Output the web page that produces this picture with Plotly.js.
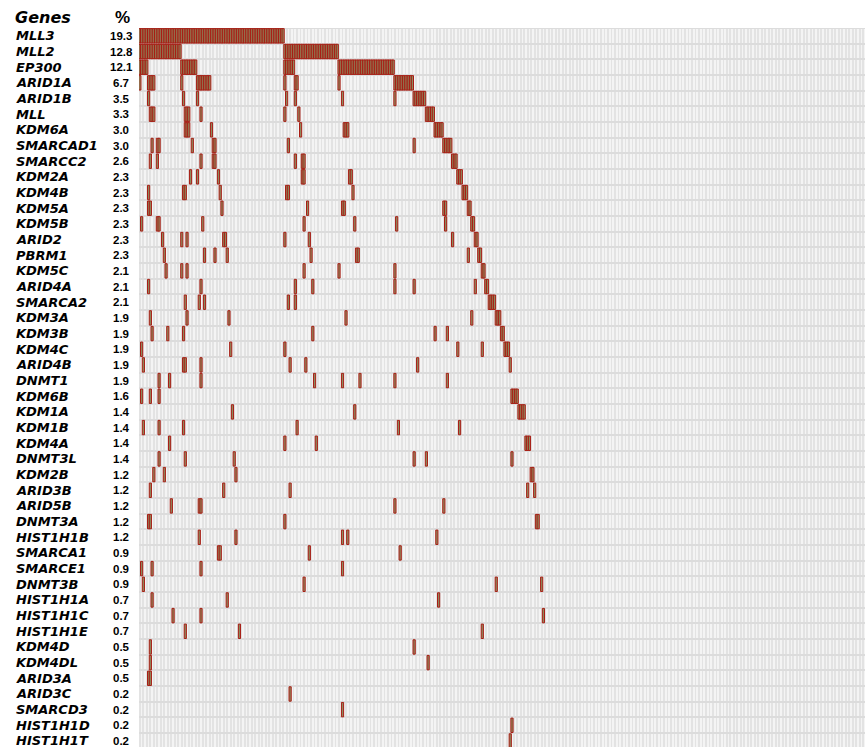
<!DOCTYPE html>
<html>
<head>
<meta charset="utf-8">
<script src="https://cdn.plot.ly/plotly-3.0.1.min.js"></script>
<style>html,body{margin:0;padding:0;background:#fff;}#chart{width:865px;height:747px;}</style>
</head>
<body>
<div id="chart"></div>
<script>
// ---------- data ----------
const genes = ["MLL3","MLL2","EP300","ARID1A","ARID1B","MLL","KDM6A","SMARCAD1","SMARCC2","KDM2A",
  "KDM4B","KDM5A","KDM5B","ARID2","PBRM1","KDM5C","ARID4A","SMARCA2","KDM3A","KDM3B",
  "KDM4C","ARID4B","DNMT1","KDM6B","KDM1A","KDM1B","KDM4A","DNMT3L","KDM2B","ARID3B",
  "ARID5B","DNMT3A","HIST1H1B","SMARCA1","SMARCE1","DNMT3B","HIST1H1A","HIST1H1C","HIST1H1E","KDM4D",
  "KDM4DL","ARID3A","ARID3C","SMARCD3","HIST1H1D","HIST1H1T"];
const pct = ["19.3","12.8","12.1","6.7","3.5","3.3","3.0","3.0","2.6","2.3",
  "2.3","2.3","2.3","2.3","2.3","2.1","2.1","2.1","1.9","1.9",
  "1.9","1.9","1.9","1.6","1.4","1.4","1.4","1.4","1.2","1.2",
  "1.2","1.2","1.2","0.9","0.9","0.9","0.7","0.7","0.7","0.5",
  "0.5","0.5","0.2","0.2","0.2","0.2"];
const nSamples = 430;

// mutated samples per gene, as runs [first sample, last sample]
const mut_MLL3     = [[0,82]];
const mut_MLL2     = [[0,23],[83,113]];
const mut_EP300    = [[0,4],[24,32],[83,88],[114,145]];
const mut_ARID1A   = [[0,0],[5,8],[24,24],[33,40],[83,83],[89,90],[114,114],[146,156]];
const mut_ARID1B   = [[5,5],[25,25],[33,33],[84,84],[89,89],[116,116],[146,146],[157,163]];
const mut_MLL      = [[6,8],[26,28],[35,35],[83,83],[91,91],[164,168]];
const mut_KDM6A    = [[26,28],[41,41],[92,92],[117,119],[169,173]];
const mut_SMARCAD1 = [[7,7],[10,11],[30,30],[42,43],[85,85],[157,157],[174,178]];
const mut_SMARCC2  = [[6,6],[10,10],[35,35],[42,43],[89,89],[93,94],[179,181]];
const mut_KDM2A    = [[29,29],[33,33],[45,45],[93,94],[120,121],[182,184]];
const mut_KDM4B    = [[5,5],[25,26],[46,46],[84,85],[122,122],[185,187]];
const mut_KDM5A    = [[5,6],[47,47],[96,96],[116,117],[174,175],[188,189]];
const mut_KDM5B    = [[1,1],[10,11],[36,36],[94,94],[123,123],[147,147],[175,175],[190,191]];
const mut_ARID2    = [[13,13],[24,24],[27,27],[48,49],[83,83],[97,97],[179,179],[192,193]];
const mut_PBRM1    = [[14,14],[37,37],[43,43],[50,50],[98,98],[124,125],[188,188],[194,195]];
const mut_KDM5C    = [[15,15],[24,24],[27,27],[94,94],[114,114],[146,146],[196,197]];
const mut_ARID4A   = [[5,5],[35,35],[89,89],[99,99],[146,146],[157,157],[192,192],[198,199]];
const mut_SMARCA2  = [[26,26],[34,34],[37,37],[85,85],[89,89],[200,203]];
const mut_KDM3A    = [[6,6],[27,27],[51,51],[118,118],[190,190],[204,206]];
const mut_KDM3B    = [[7,7],[16,16],[25,25],[99,99],[169,169],[176,176],[207,208]];
const mut_KDM4C    = [[1,1],[52,52],[83,83],[182,182],[196,196],[209,211]];
const mut_ARID4B   = [[2,2],[25,26],[35,35],[86,86],[95,95],[159,159],[212,212]];
const mut_DNMT1    = [[11,11],[17,17],[35,35],[100,100],[116,116],[126,126],[146,146],[176,176]];
const mut_KDM6B    = [[1,1],[6,6],[11,11],[213,216]];
const mut_KDM1A    = [[53,53],[123,123],[217,220]];
const mut_KDM1B    = [[2,2],[11,11],[25,25],[90,90],[148,148],[183,183]];
const mut_KDM4A    = [[17,17],[83,83],[101,101],[221,223]];
const mut_DNMT3L   = [[11,11],[26,26],[54,54],[157,157],[164,164],[213,213]];
const mut_KDM2B    = [[8,8],[14,14],[55,55],[224,225]];
const mut_ARID3B   = [[6,6],[48,48],[86,86],[222,222],[226,226]];
const mut_ARID5B   = [[18,18],[34,35],[146,146],[174,174]];
const mut_DNMT3A   = [[5,6],[83,83],[227,228]];
const mut_HIST1H1B = [[34,34],[55,55],[116,116],[119,119],[170,170]];
const mut_SMARCA1  = [[45,46],[97,97],[149,149]];
const mut_SMARCE1  = [[1,1],[7,7],[35,35],[116,116]];
const mut_DNMT3B   = [[2,2],[94,94],[204,204],[230,230]];
const mut_HIST1H1A = [[7,7],[50,50],[171,171]];
const mut_HIST1H1C = [[19,19],[35,35],[231,231]];
const mut_HIST1H1E = [[26,26],[57,57],[196,196]];
const mut_KDM4D    = [[6,6],[157,157]];
const mut_KDM4DL   = [[6,6],[165,165]];
const mut_ARID3A   = [[5,6]];
const mut_ARID3C   = [[86,86]];
const mut_SMARCD3  = [[116,116]];
const mut_HIST1H1D = [[213,213]];
const mut_HIST1H1T = [[212,212]];

const mutRuns = [mut_MLL3,mut_MLL2,mut_EP300,mut_ARID1A,mut_ARID1B,mut_MLL,mut_KDM6A,mut_SMARCAD1,
  mut_SMARCC2,mut_KDM2A,mut_KDM4B,mut_KDM5A,mut_KDM5B,mut_ARID2,mut_PBRM1,mut_KDM5C,mut_ARID4A,
  mut_SMARCA2,mut_KDM3A,mut_KDM3B,mut_KDM4C,mut_ARID4B,mut_DNMT1,mut_KDM6B,mut_KDM1A,mut_KDM1B,
  mut_KDM4A,mut_DNMT3L,mut_KDM2B,mut_ARID3B,mut_ARID5B,mut_DNMT3A,mut_HIST1H1B,mut_SMARCA1,
  mut_SMARCE1,mut_DNMT3B,mut_HIST1H1A,mut_HIST1H1C,mut_HIST1H1E,mut_KDM4D,mut_KDM4DL,mut_ARID3A,
  mut_ARID3C,mut_SMARCD3,mut_HIST1H1D,mut_HIST1H1T];

// ---------- build traces ----------
const rowIdx = genes.map((g,i)=>i);
const colIdx = Array.from({length:nSamples},(_,i)=>i);
const bgZ = rowIdx.map(()=>colIdx.map(c=>c%2));

const bx=[], bbase=[], by=[], btext=[];
mutRuns.forEach((runs,r)=>{
  runs.forEach(([a,b])=>{
    for(let s=a;s<=b;s++){ bx.push(s); bbase.push(r-0.46); by.push(0.92); btext.push(genes[r]); }
  });
});

const bg = {
  type:'heatmap', x:colIdx, y:rowIdx, z:bgZ,
  colorscale:[[0,'#e3e3e3'],[1,'#f4f4f4']], showscale:false, ygap:2,
  hoverinfo:'skip', zmin:0, zmax:1
};
const muts = {
  type:'bar', x:bx, base:bbase, y:by, width:1.25, text:btext, textposition:'none',
  marker:{color:'#8e8a5e', line:{color:'#a81c14', width:1}},
  hovertemplate:'%{text}<br>sample %{x}<extra></extra>'
};

const plotW = 726, colPx = 1.747, rowPx = 15.67, plotH = 719;
const px2paper = px => (px-139)/plotW;

const annotations = [];
genes.forEach((g,i)=>{
  annotations.push({xref:'paper', yref:'y', x:px2paper(14), y:i, xanchor:'left', yanchor:'middle',
    text:'<b><i>'+g+'</i></b>', showarrow:false,
    font:{family:'DejaVu Sans', size:13, color:'#000'}});
  annotations.push({xref:'paper', yref:'y', x:px2paper(121), y:i, xanchor:'center', yanchor:'middle',
    text:'<b>'+pct[i]+'</b>', showarrow:false,
    font:{family:'Liberation Sans, Arial', size:11.5, color:'#000'}});
});
annotations.push({xref:'paper', yref:'paper', x:px2paper(13), y:1+(28-17)/plotH, xanchor:'left', yanchor:'middle',
  text:'<b><i>Genes</i></b>', showarrow:false, font:{family:'DejaVu Sans', size:16, color:'#000'}});
annotations.push({xref:'paper', yref:'paper', x:px2paper(122.5), y:1+(28-17)/plotH, xanchor:'center', yanchor:'middle',
  text:'<b>%</b>', showarrow:false, font:{family:'Liberation Sans, Arial', size:17, color:'#000'}});

const layout = {
  width:865, height:747,
  margin:{l:139, r:0, t:28, b:0, pad:0},
  paper_bgcolor:'#ffffff', plot_bgcolor:'#dcdcdc',
  showlegend:false, barmode:'overlay', bargap:0,
  xaxis:{range:[-0.5, -0.5+plotW/colPx], visible:false, fixedrange:true},
  yaxis:{range:[-0.5+plotH/rowPx, -0.5], visible:false, fixedrange:true},
  annotations:annotations
};
Plotly.newPlot('chart',[bg,muts],layout,{displayModeBar:false, staticPlot:true});
</script>
</body>
</html>
